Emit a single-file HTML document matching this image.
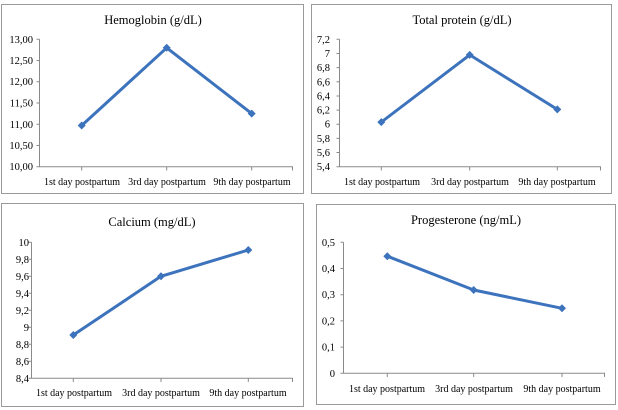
<!DOCTYPE html>
<html><head><meta charset="utf-8"><style>
html,body{margin:0;padding:0;background:#fff;}
svg{display:block;}
text{font-family:"Liberation Serif",serif;fill:#000;}
.t{font-size:12.5px;text-anchor:middle;}
.y{font-size:10.5px;text-anchor:end;}
.c{font-size:10px;text-anchor:middle;}
.b{fill:none;stroke:#9a9a9a;stroke-width:1;}
.a{stroke:#8a8a8a;stroke-width:1;fill:none;}
.s{fill:none;stroke:#3c73bc;stroke-width:3;stroke-linejoin:round;}
.m{fill:#3c73bc;}
</style></head><body>
<svg width="618" height="410" viewBox="0 0 618 410" xmlns="http://www.w3.org/2000/svg">
<!-- Panel 1 -->
<rect class="b" x="1.5" y="4.5" width="302" height="189"/>
<text class="t" x="153" y="24">Hemoglobin (g/dL)</text>
<path class="a" d="M39.5 39.3V166.7H293M36.5 39.3H39.5M36.5 60.5H39.5M36.5 81.8H39.5M36.5 103H39.5M36.5 124.2H39.5M36.5 145.5H39.5M36.5 166.7H39.5M81.7 166.7V170.5M166.7 166.7V170.5M251.7 166.7V170.5M292.5 166.7V170.5"/>
<text class="y" x="33" y="43">13,00</text>
<text class="y" x="33" y="64">12,50</text>
<text class="y" x="33" y="85">12,00</text>
<text class="y" x="33" y="106.5">11,50</text>
<text class="y" x="33" y="128">11,00</text>
<text class="y" x="33" y="149">10,50</text>
<text class="y" x="33" y="170">10,00</text>
<text class="c" x="82" y="185">1st day postpartum</text>
<text class="c" x="167" y="185">3rd day postpartum</text>
<text class="c" x="252" y="185">9th day postpartum</text>
<polyline class="s" points="81.7,125.5 166.7,47.8 251.7,113.6"/>
<path class="m" d="M81.7 121.5l4 4-4 4-4-4zM166.7 43.8l4 4-4 4-4-4zM251.7 109.6l4 4-4 4-4-4z"/>

<!-- Panel 2 -->
<rect class="b" x="311.5" y="4.5" width="300" height="189"/>
<text class="t" x="462" y="24">Total protein (g/dL)</text>
<path class="a" d="M339.5 39.3V166.7H601M336.5 39.3H339.5M336.5 53.5H339.5M336.5 67.6H339.5M336.5 81.8H339.5M336.5 96H339.5M336.5 110.1H339.5M336.5 124.2H339.5M336.5 138.4H339.5M336.5 152.5H339.5M336.5 166.7H339.5M381.3 166.7V170.5M469.7 166.7V170.5M557.3 166.7V170.5M600.5 166.7V170.5"/>
<text class="y" x="330" y="43">7,2</text>
<text class="y" x="330" y="57">7</text>
<text class="y" x="330" y="71">6,8</text>
<text class="y" x="330" y="85.3">6,6</text>
<text class="y" x="330" y="99.5">6,4</text>
<text class="y" x="330" y="113.6">6,2</text>
<text class="y" x="330" y="127.7">6</text>
<text class="y" x="330" y="142">5,8</text>
<text class="y" x="330" y="156">5,6</text>
<text class="y" x="330" y="170">5,4</text>
<text class="c" x="382" y="185">1st day postpartum</text>
<text class="c" x="470" y="185">3rd day postpartum</text>
<text class="c" x="557" y="185">9th day postpartum</text>
<polyline class="s" points="381.3,122.1 469.7,54.9 557.3,109.4"/>
<path class="m" d="M381.3 118.1l4 4-4 4-4-4zM469.7 50.9l4 4-4 4-4-4zM557.3 105.4l4 4-4 4-4-4z"/>

<!-- Panel 3 -->
<rect class="b" x="1.5" y="203.5" width="302" height="203"/>
<text class="t" x="152" y="226">Calcium (mg/dL)</text>
<path class="a" d="M31.5 242.3V378.3H293M28.5 242.3H31.5M28.5 259.3H31.5M28.5 276.3H31.5M28.5 293.3H31.5M28.5 310.3H31.5M28.5 327.3H31.5M28.5 344.3H31.5M28.5 361.3H31.5M28.5 378.3H31.5M73.3 378.3V382M161 378.3V382M248.3 378.3V382M292.5 378.3V382"/>
<text class="y" x="29" y="246">10</text>
<text class="y" x="29" y="263">9,8</text>
<text class="y" x="29" y="280">9,6</text>
<text class="y" x="29" y="297">9,4</text>
<text class="y" x="29" y="314">9,2</text>
<text class="y" x="29" y="331">9</text>
<text class="y" x="29" y="348">8,8</text>
<text class="y" x="29" y="365">8,6</text>
<text class="y" x="29" y="382">8,4</text>
<text class="c" x="74" y="396">1st day postpartum</text>
<text class="c" x="161" y="396">3rd day postpartum</text>
<text class="c" x="248" y="396">9th day postpartum</text>
<polyline class="s" points="73.3,335 161,276.3 248.3,250"/>
<path class="m" d="M73.3 331l4 4-4 4-4-4zM161 272.3l4 4-4 4-4-4zM248.3 246l4 4-4 4-4-4z"/>

<!-- Panel 4 -->
<rect class="b" x="316.5" y="204.5" width="299" height="200"/>
<text class="t" x="466" y="224">Progesterone (ng/mL)</text>
<path class="a" d="M343.5 242.3V373.3H605M340.5 242.3H343.5M340.5 268.5H343.5M340.5 294.7H343.5M340.5 320.9H343.5M340.5 347.1H343.5M340.5 373.3H343.5M387.3 373.3V377M473.7 373.3V377M562 373.3V377M604.5 373.3V377"/>
<text class="y" x="335" y="246">0,5</text>
<text class="y" x="335" y="272">0,4</text>
<text class="y" x="335" y="298">0,3</text>
<text class="y" x="335" y="324.5">0,2</text>
<text class="y" x="335" y="350.5">0,1</text>
<text class="y" x="335" y="377">0</text>
<text class="c" x="387" y="392">1st day postpartum</text>
<text class="c" x="474" y="392">3rd day postpartum</text>
<text class="c" x="562" y="392">9th day postpartum</text>
<polyline class="s" points="387.3,256.2 473.7,290 562,308.3"/>
<path class="m" d="M387.3 252.2l4 4-4 4-4-4zM473.7 286l4 4-4 4-4-4zM562 304.3l4 4-4 4-4-4z"/>
</svg>
</body></html>
